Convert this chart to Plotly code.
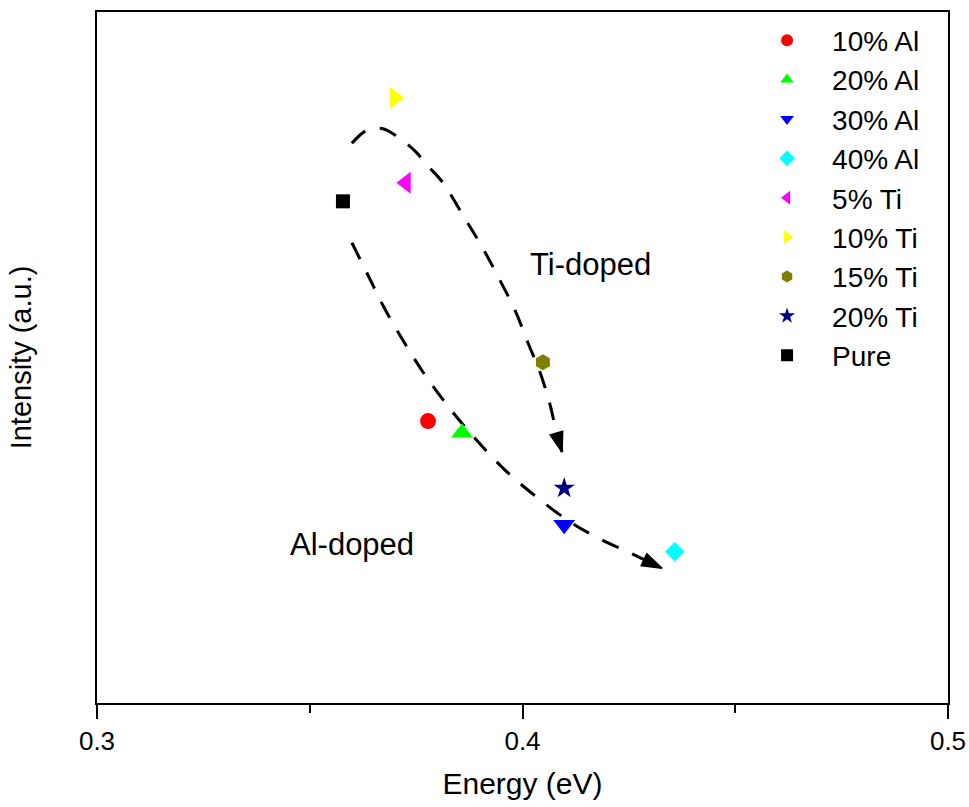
import plotly.graph_objects as go

# ---- data ----
names = ["10% Al", "20% Al", "30% Al", "40% Al", "5% Ti", "10% Ti", "15% Ti", "20% Ti", "Pure"]
energy = [0.3778, 0.3858, 0.4098, 0.4358, 0.3726, 0.3700, 0.4048, 0.4098, 0.3578]
intensity = [40.8, 39.1, 25.8, 21.9, 75.3, 87.6, 49.3, 31.1, 72.6]
symbols = ["circle", "triangle-up", "triangle-down", "diamond", "triangle-left",
           "triangle-right", "hexagon", "star", "square"]
colors = ["#FF0000", "#00FF00", "#0000FF", "#00FFFF", "#FF00FF",
          "#FFFF00", "#808000", "#000080", "#000000"]
sizes = [16, 19, 19, 15, 19, 19, 16, 16, 14]

# guide curves (Energy, Intensity)
ti_curve_x = [0.3599, 0.3635, 0.3672, 0.3707, 0.3747, 0.3778, 0.3813, 0.3860,
              0.3905, 0.3945, 0.3982, 0.4013, 0.4041, 0.4065, 0.4081, 0.4093]
ti_curve_y = [81.0, 82.9, 83.1, 81.9, 79.9, 77.7, 75.3, 70.6,
              66.0, 61.4, 56.9, 52.1, 47.9, 43.1, 38.8, 36.3]
al_curve_x = [0.3599, 0.3637, 0.3675, 0.3719, 0.3766, 0.3823, 0.3884, 0.3954,
              0.4029, 0.4112, 0.4177, 0.4253, 0.4328]
al_curve_y = [66.6, 61.9, 57.2, 52.5, 47.9, 43.1, 38.6, 34.0,
              30.0, 26.2, 23.9, 21.7, 19.5]

labels = ["Ti-doped", "Al-doped"]
label_x = [0.4159, 0.3599]
label_y = [63.4, 22.9]

FONT = "Arial, Liberation Sans, sans-serif"

fig = go.Figure()

for cx, cy in [(ti_curve_x, ti_curve_y), (al_curve_x, al_curve_y)]:
    fig.add_trace(go.Scatter(
        x=cx, y=cy, mode="lines", showlegend=False, hoverinfo="skip",
        line=dict(color="black", width=3, dash="18px,15px", shape="spline", smoothing=1),
    ))
    # arrowhead at the end of each guide curve
    fig.add_trace(go.Scatter(
        x=cx[-2:], y=cy[-2:], mode="markers", showlegend=False, hoverinfo="skip",
        marker=dict(symbol="arrow", angleref="previous", color="#000000", opacity=1,
                    size=[0, 21], line=dict(width=1.5, color="#000000")),
    ))

for i in range(len(names)):
    fig.add_trace(go.Scatter(
        x=[energy[i]], y=[intensity[i]], mode="markers", name=names[i],
        marker=dict(symbol=symbols[i], color=colors[i], size=sizes[i], line=dict(width=0)),
    ))

for t, lx, ly in zip(labels, label_x, label_y):
    fig.add_annotation(x=lx, y=ly, text=t, showarrow=False,
                       font=dict(family=FONT, size=31, color="black"))

fig.update_layout(
    width=969, height=807,
    margin=dict(l=97, r=21, t=12, b=104, autoexpand=False),
    paper_bgcolor="white", plot_bgcolor="white",
    font=dict(family=FONT, color="black"),
    legend=dict(x=0.758, y=0.995, xanchor="left", yanchor="top",
                font=dict(family=FONT, size=28, color="black"),
                itemsizing="constant", itemwidth=80,
                bgcolor="rgba(0,0,0,0)", borderwidth=0),
    xaxis=dict(range=[0.3, 0.5], dtick=0.1, tick0=0.3, tickformat=".1f",
               automargin=False,
               ticks="outside", ticklen=14, tickwidth=2, tickcolor="black",
               minor=dict(dtick=0.05, ticks="outside", ticklen=8, tickwidth=2, tickcolor="black"),
               showline=True, linewidth=2, linecolor="black", mirror=True,
               showgrid=False, zeroline=False,
               tickfont=dict(family=FONT, size=26, color="black"),
               title=dict(text="Energy (eV)", font=dict(family=FONT, size=30, color="black"),
                          standoff=18)),
    yaxis=dict(range=[0, 100], showticklabels=False, ticks="",
               showline=True, linewidth=2, linecolor="black", mirror=True,
               showgrid=False, zeroline=False,
               title=dict(text="Intensity (a.u.)", font=dict(family=FONT, size=29, color="black"),
                          standoff=55)),
)

fig.write_html("out.html")
